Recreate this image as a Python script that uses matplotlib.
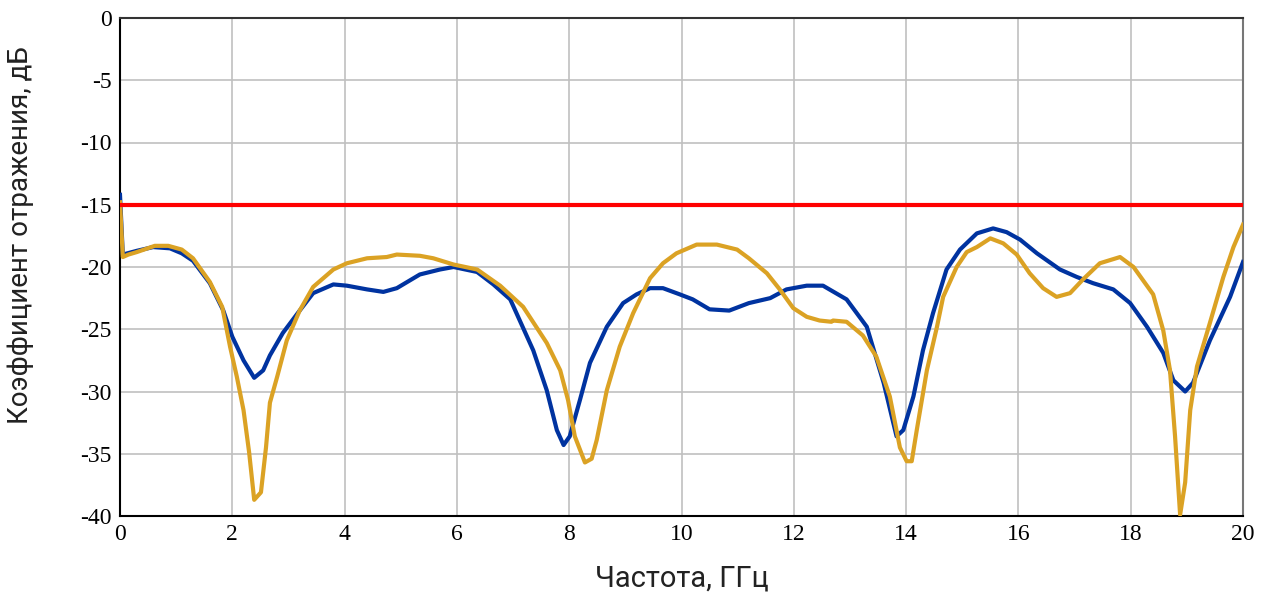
import matplotlib
matplotlib.use("Agg")
import matplotlib.pyplot as plt

# measured curve (blue)
f_blue = [0.0, 0.05, 0.3, 0.59, 0.89, 1.1, 1.3, 1.6, 1.84, 2.0, 2.2, 2.39, 2.55, 2.67,
          2.9, 3.2, 3.44, 3.8, 4.04, 4.4, 4.69, 4.93, 5.34, 5.7, 5.94, 6.36, 6.65, 6.95,
          7.12, 7.36, 7.6, 7.78, 7.9, 8.01, 8.19, 8.37, 8.67, 8.96, 9.2, 9.44, 9.67, 9.97,
          10.2, 10.5, 10.85, 11.2, 11.58, 11.87, 12.23, 12.52, 12.94, 13.3, 13.6, 13.83,
          13.95, 14.13, 14.3, 14.48, 14.72, 14.96, 15.26, 15.55, 15.79, 16.03, 16.33,
          16.74, 17.04, 17.33, 17.69, 17.99, 18.29, 18.58, 18.76, 18.97, 19.11, 19.41,
          19.77, 20.0]
s_blue = [-14.2, -19.0, -18.7, -18.4, -18.5, -18.9, -19.5, -21.3, -23.5, -25.6, -27.5,
          -28.9, -28.3, -27.1, -25.3, -23.5, -22.1, -21.4, -21.5, -21.8, -22.0, -21.7,
          -20.6, -20.2, -20.0, -20.4, -21.4, -22.6, -24.3, -26.7, -29.9, -33.1, -34.3,
          -33.6, -30.7, -27.7, -24.8, -22.9, -22.2, -21.7, -21.7, -22.2, -22.6, -23.4,
          -23.5, -22.9, -22.5, -21.8, -21.5, -21.5, -22.6, -24.8, -29.3, -33.6, -33.1,
          -30.4, -26.7, -23.7, -20.2, -18.6, -17.3, -16.9, -17.2, -17.8, -18.9, -20.2,
          -20.8, -21.3, -21.8, -22.9, -24.8, -26.9, -29.1, -30.0, -29.3, -25.9, -22.4,
          -19.6]

# simulated curve (orange)
f_orange = [0.0, 0.05, 0.15, 0.3, 0.62, 0.86, 1.1, 1.3, 1.6, 1.82, 1.96, 2.08, 2.2, 2.3,
            2.39, 2.51, 2.6, 2.67, 2.8, 2.97, 3.2, 3.44, 3.8, 4.04, 4.4, 4.75, 4.93, 5.34,
            5.58, 5.94, 6.36, 6.77, 7.18, 7.6, 7.84, 7.98, 8.1, 8.28, 8.4, 8.49, 8.67,
            8.9, 9.14, 9.44, 9.67, 9.91, 10.27, 10.63, 10.99, 11.2, 11.52, 11.75, 11.99,
            12.23, 12.46, 12.67, 12.7, 12.94, 13.23, 13.47, 13.71, 13.89, 14.01, 14.1,
            14.19, 14.37, 14.55, 14.66, 14.9, 15.08, 15.26, 15.5, 15.73, 15.97, 16.2,
            16.44, 16.68, 16.92, 17.15, 17.45, 17.81, 18.05, 18.4, 18.58, 18.7, 18.79,
            18.88, 18.97, 19.06, 19.18, 19.41, 19.65, 19.83, 20.0]
s_orange = [-14.8, -19.2, -19.0, -18.8, -18.3, -18.3, -18.6, -19.3, -21.2, -23.2, -26.4,
            -28.8, -31.5, -34.9, -38.7, -38.1, -34.5, -30.9, -28.8, -25.9, -23.5, -21.6,
            -20.2, -19.7, -19.3, -19.2, -19.0, -19.1, -19.3, -19.8, -20.2, -21.5, -23.2,
            -26.1, -28.3, -30.7, -33.6, -35.7, -35.4, -33.9, -29.9, -26.4, -23.7, -20.9,
            -19.7, -18.9, -18.2, -18.2, -18.6, -19.3, -20.5, -21.8, -23.3, -24.0, -24.3,
            -24.4, -24.3, -24.4, -25.5, -27.2, -30.4, -34.5, -35.6, -35.6, -33.1, -28.3,
            -24.8, -22.4, -20.0, -18.8, -18.4, -17.7, -18.1, -19.0, -20.5, -21.7, -22.4,
            -22.1, -21.0, -19.7, -19.2, -20.0, -22.2, -25.1, -28.3, -33.6, -39.9, -37.3,
            -31.5, -28.0, -24.5, -20.8, -18.4, -16.6]

limit_level = -15
x_ticks = list(range(0, 21, 2))
y_ticks = list(range(-40, 1, 5))

plt.rcParams["axes.unicode_minus"] = False

fig = plt.figure(figsize=(12.68, 5.96), dpi=100)
ax = fig.add_axes([120 / 1268, 1 - 516 / 596, 1123 / 1268, 498 / 596])

ax.plot(f_blue, s_blue, color="#0033a0", lw=3, zorder=3)
ax.plot(f_orange, s_orange, color="#dba224", lw=3, zorder=4)
ax.plot([0, 20], [limit_level, limit_level], color="#ff0000", lw=3, zorder=5)

ax.set_xlim(0, 20)
ax.set_ylim(-40, 0)
ax.set_xticks(x_ticks)
ax.set_yticks(y_ticks)
ax.grid(True, color="#c0c0c0", lw=1.2)
ax.set_axisbelow(True)
ax.tick_params(length=0, pad=6, labelsize=17)
for lbl in ax.get_xticklabels() + ax.get_yticklabels():
    lbl.set_fontfamily("Liberation Serif")

ax.spines["left"].set_color("black")
ax.spines["bottom"].set_color("black")
ax.spines["top"].set_color("#333333")
ax.spines["right"].set_color("#777777")
for s in ax.spines.values():
    s.set_linewidth(1.5)

ax.set_xlabel("Частота, ГГц", fontfamily="Roboto", fontsize=21, color="#222222", labelpad=14)
ax.set_ylabel("Коэффициент отражения, дБ", fontfamily="Roboto", fontsize=20, color="#222222")
ax.yaxis.set_label_coords(-0.077, 0.565)

fig.savefig("out.png", dpi=100)
